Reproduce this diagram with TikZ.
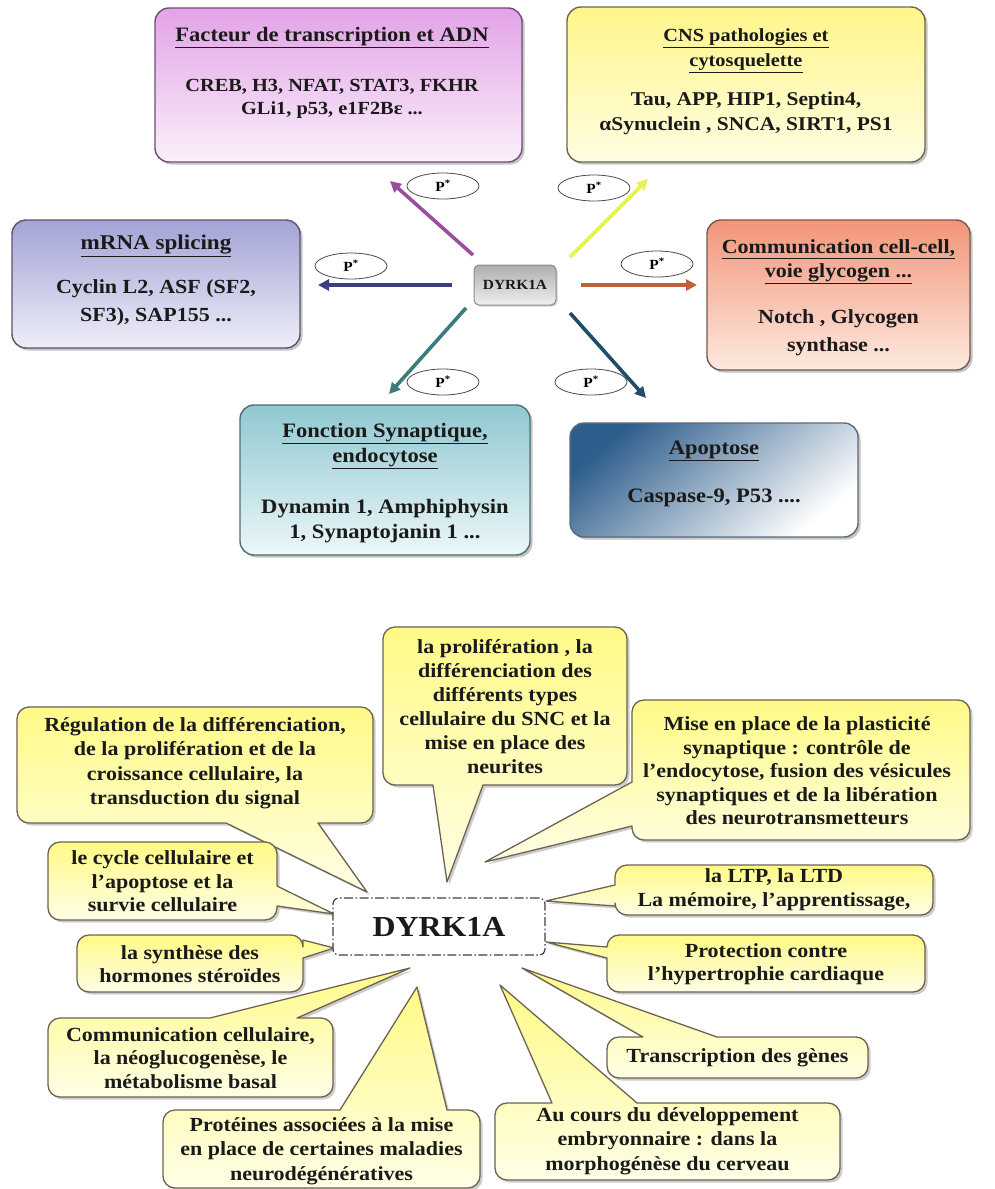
\documentclass[tikz,border=0pt]{standalone}
\usepackage{fontspec}
\setmainfont{Liberation Serif}[FakeStretch=1.1]
\usetikzlibrary{arrows.meta,shadows,shapes.geometric}

\definecolor{facA}{HTML}{E3A2E8}
\definecolor{facB}{HTML}{FAF0FA}
\definecolor{facD}{HTML}{6E4E72}
\definecolor{cnsA}{HTML}{FFF68A}
\definecolor{cnsB}{HTML}{FFFDE2}
\definecolor{cnsD}{HTML}{6F6650}
\definecolor{mrnA}{HTML}{A3A3D6}
\definecolor{mrnB}{HTML}{EEEEF8}
\definecolor{mrnD}{HTML}{555570}
\definecolor{comA}{HTML}{F2957A}
\definecolor{comB}{HTML}{FDE9DF}
\definecolor{comD}{HTML}{76584E}
\definecolor{fonA}{HTML}{8FC8D1}
\definecolor{fonB}{HTML}{ECF7F9}
\definecolor{fonD}{HTML}{4E6E72}
\definecolor{apoA}{HTML}{2E5E8C}
\definecolor{apoD}{HTML}{5A6A78}
\definecolor{arMag}{HTML}{9A4E9E}
\definecolor{arYel}{HTML}{EAF05A}
\definecolor{arBlu}{HTML}{3B3F7E}
\definecolor{arOra}{HTML}{C0603A}
\definecolor{arTea}{HTML}{3C7C7C}
\definecolor{arDrk}{HTML}{1F4E6A}
\definecolor{cyTop}{HTML}{FFFA86}
\definecolor{cyBot}{HTML}{FFFEE6}
\definecolor{cBord}{HTML}{6E6252}
\definecolor{txtC}{HTML}{1A1A1A}

\newcommand\fsz[2]{\fontsize{#1}{#2}\selectfont\bfseries}
\newcommand\calfont{\fontsize{20}{24.5}\selectfont\bfseries}

% rounded box path with optional pointer on top/right/bottom/left
\newcommand\cpath[8]{(#1+12,#2) #5 -- (#3-12,#2) arc[start angle=270,end angle=360,radius=12] #6 -- (#3,#4-12) arc[start angle=0,end angle=90,radius=12] #7 -- (#1+12,#4) arc[start angle=90,end angle=180,radius=12] #8 -- (#1,#2+12) arc[start angle=180,end angle=270,radius=12] -- cycle}

\tikzset{
  topbox/.style n args={3}{draw=#1, top color=#2, bottom color=#3, rounded corners=14pt,
    line width=1.4pt, inner sep=0pt,
    drop shadow={shadow xshift=2.5pt, shadow yshift=-2.5pt, opacity=0.45}},
  txt/.style={align=center, inner sep=0pt, text=txtC},
  parrow/.style={draw=#1, line width=3.6pt, -{Triangle[length=11pt,width=11pt]}},
  pstar/.style={ellipse, draw=black!70, line width=0.8pt, fill=white, minimum width=72pt,
    minimum height=26pt, inner sep=0pt, font=\fsz{14}{14}},
  callout/.style={draw=cBord, line width=1.3pt, top color=cyTop, bottom color=cyBot,
    line join=round, drop shadow={shadow xshift=2.5pt, shadow yshift=-2.5pt, opacity=0.4}},
  ctext/.style={txt, font=\calfont}
}

\begin{document}
\begin{tikzpicture}[x=1pt,y=-1pt]
\useasboundingbox (0,0) rectangle (995,1189);
\fill[white] (0,0) rectangle (995,1189);

% ---------------- top half ----------------
\node[topbox={facD}{facA}{facB}, minimum width=367pt, minimum height=154pt] (fac) at (338.5,85) {};
\node[topbox={cnsD}{cnsA}{cnsB}, minimum width=358pt, minimum height=155pt] (cns) at (746,84.5) {};
\node[topbox={mrnD}{mrnA}{mrnB}, minimum width=288pt, minimum height=128pt] (mrna) at (156,284) {};
\node[topbox={comD}{comA}{comB}, minimum width=263pt, minimum height=150pt] (comm) at (838.5,295) {};
\node[topbox={fonD}{fonA}{fonB}, minimum width=290pt, minimum height=150pt] (fonc) at (385,480) {};
\node[draw=apoD, line width=1.4pt, rounded corners=14pt, shading=axis, top color=apoA,
  bottom color=white, shading angle=40, minimum width=288pt, minimum height=114pt,
  drop shadow={shadow xshift=2.5pt, shadow yshift=-2.5pt, opacity=0.45}] (apo) at (714,480) {};

\node[txt, font=\fsz{20.5}{24}] (facT) at (332,38) {\underline{Facteur de transcription et ADN}};
\node[txt, font=\fsz{18.5}{23}] (facI) at (332,99) {CREB, H3, NFAT, STAT3, FKHR\\ GLi1, p53, e1F2Bɛ ...};

\node[txt, font=\fsz{18.5}{25}] (cnsT) at (746,51) {\underline{CNS pathologies et}\\ \underline{cytosquelette}};
\node[txt, font=\fsz{19.5}{25}] (cnsI) at (746,113) {Tau, APP, HIP1, Septin4,\\ αSynuclein , SNCA, SIRT1, PS1};

\node[txt, font=\fsz{21}{24}] (mrnT) at (156,246) {\underline{mRNA splicing}};
\node[txt, font=\fsz{20}{28}] (mrnI) at (156,303) {Cyclin L2, ASF (SF2,\\ SF3), SAP155 ...};

\node[txt, font=\fsz{20}{24}] (comT) at (838.5,262) {\underline{Communication cell-cell,}\\ \underline{voie glycogen ...}};
\node[txt, font=\fsz{20}{28}] (comI) at (838.5,333) {Notch , Glycogen\\ synthase ...};

\node[txt, font=\fsz{20.5}{25}] (fonT) at (385,446) {\underline{Fonction Synaptique,}\\ \underline{endocytose}};
\node[txt, font=\fsz{20.5}{25}] (fonI) at (385,521) {Dynamin 1, Amphiphysin\\ 1, Synaptojanin 1 ...};

\node[txt, font=\fsz{20.5}{24}] (apoT) at (714,451) {\underline{Apoptose}};
\node[txt, font=\fsz{20.5}{24}] (apoI) at (714,498) {Caspase-9, P53 ....};

% centre
\node[draw=black!45, line width=1pt, rounded corners=5pt, top color=black!32, bottom color=black!6,
  minimum width=82pt, minimum height=40pt, inner sep=0pt, text=txtC,
  font=\fsz{14}{15},
  drop shadow={shadow xshift=1.5pt, shadow yshift=-1.5pt, opacity=0.35}] (dyrk) at (515,285) {DYRK1A};

% arrow end points
\coordinate (aT1) at (473,255); \coordinate (aH1) at (390,181);
\coordinate (aT2) at (570,257); \coordinate (aH2) at (648,179);
\coordinate (aT3) at (452,285); \coordinate (aH3) at (318,285);
\coordinate (aT4) at (581,285); \coordinate (aH4) at (697,285);
\coordinate (aT5) at (466,308); \coordinate (aH5) at (389,394);
\coordinate (aT6) at (570,313); \coordinate (aH6) at (646,398);

\draw[parrow=arMag] (aT1) -- (aH1);
\draw[parrow=arYel] (aT2) -- (aH2);
\draw[parrow=arBlu] (aT3) -- (aH3);
\draw[parrow=arOra] (aT4) -- (aH4);
\draw[parrow=arTea] (aT5) -- (aH5);
\draw[parrow=arDrk] (aT6) -- (aH6);

\node[pstar] (p1) at (443,186) {P\textsuperscript{*}};
\node[pstar] (p2) at (594,188) {P\textsuperscript{*}};
\node[pstar] (p3) at (351,266) {P\textsuperscript{*}};
\node[pstar] (p4) at (657,264) {P\textsuperscript{*}};
\node[pstar] (p5) at (443,382) {P\textsuperscript{*}};
\node[pstar] (p6) at (591,382) {P\textsuperscript{*}};

% ---------------- bottom half : callouts ----------------
% Regulation (pointer bottom)
\draw[callout] \cpath{17}{707}{373}{823}{}{}{-- (318,823) -- (367,892) -- (226,823)}{};
% proliferation (pointer bottom)
\draw[callout] \cpath{383}{627}{627}{785}{}{}{-- (483,785) -- (447,882) -- (433,785)}{};
% mise en place (pointer left)
\draw[callout] \cpath{632}{700}{970}{840}{}{}{}{-- (632,826) -- (485,862) -- (632,782)};
% cycle (pointer right)
\draw[callout] \cpath{48}{842}{277}{920}{}{-- (277,886) -- (334,914) -- (277,906)}{}{};
% LTP (pointer left)
\draw[callout] \cpath{615}{865}{933}{915}{}{}{}{-- (615,906) -- (546,901) -- (615,885)};
% synthese (pointer right)
\draw[callout] \cpath{77}{935}{303}{992}{}{-- (303,940) -- (334,948) -- (303,958)}{}{};
% protection (pointer left)
\draw[callout] \cpath{607}{935}{925}{992}{}{}{}{-- (607,958) -- (546,942) -- (607,947)};
% communication (pointer top)
\draw[callout] \cpath{48}{1018}{333}{1097}{-- (210,1018) -- (410,968) -- (297,1018)}{}{}{};
% transcription (pointer top)
\draw[callout] \cpath{607}{1037}{868}{1078}{-- (643,1037) -- (522,968) -- (717,1037)}{}{}{};
% proteines (pointer top)
\draw[callout] \cpath{163}{1110}{480}{1188}{-- (340,1110) -- (417,987) -- (447,1110)}{}{}{};
% au cours (pointer top)
\draw[callout] \cpath{495}{1103}{840}{1180}{-- (552,1103) -- (500,985) -- (637,1103)}{}{}{};

\node[ctext] (c1) at (195,763) {Régulation de la différenciation,\\ de la prolifération et de la\\ croissance cellulaire, la\\ transduction du signal};
\node[ctext, font=\fsz{20}{24}] (c2) at (505,707) {la prolifération , la\\ différenciation des\\ différents types\\ cellulaire du SNC et la\\ mise en place des\\ neurites};
\node[ctext, font=\fsz{20}{23.5}] (c3) at (797,771) {Mise en place de la plasticité\\ synaptique : contrôle de\\ l’endocytose, fusion des vésicules\\ synaptiques et de la libération\\ des neurotransmetteurs};
\node[ctext, font=\fsz{20}{23.5}] (c4) at (162.5,881.5) {le cycle cellulaire et\\ l’apoptose et la\\ survie cellulaire};
\node[ctext, font=\fsz{20}{24}] (c5) at (774,890) {la LTP, la LTD\\ La mémoire, l’apprentissage,};
\node[ctext, font=\fsz{20}{22.5}] (c6) at (190,964) {la synthèse des\\ hormones stéroïdes};
\node[ctext, font=\fsz{20}{22.5}] (c7) at (766,964) {Protection contre\\ l’hypertrophie cardiaque};
\node[ctext, font=\fsz{20}{23.5}] (c8) at (190.5,1058) {Communication cellulaire,\\ la néoglucogenèse, le\\ métabolisme basal};
\node[ctext] (c9) at (737.5,1058) {Transcription des gènes};
\node[ctext] (c10) at (321.5,1151) {Protéines associées à la mise\\ en place de certaines maladies\\ neurodégénératives};
\node[ctext] (c11) at (667.5,1141) {Au cours du développement\\ embryonnaire : dans la\\ morphogénèse du cerveau};

% central node of the bottom half
\node[draw=black!75, line width=1.2pt, dash pattern=on 9pt off 2.5pt on 1.5pt off 2.5pt,
  rounded corners=6pt, fill=white, minimum width=212pt, minimum height=57pt, inner sep=0pt,
  text=txtC, font=\fsz{29}{29}] (dyrkB) at (439,926.5) {DYRK1A};

\end{tikzpicture}
\end{document}
